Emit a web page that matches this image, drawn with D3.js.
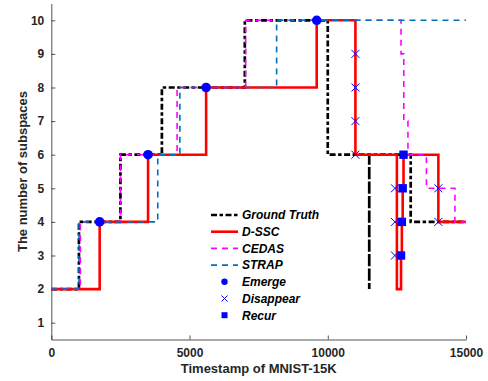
<!DOCTYPE html>
<html>
<head>
<meta charset="utf-8">
<script src="https://cdn.jsdelivr.net/npm/d3@7"></script>
<style>
  body { margin: 0; background: #fff; }
  text { font-family: "Liberation Sans", Arial, sans-serif; }
</style>
</head>
<body>
<svg id="chart" width="488" height="381"></svg>
<script>
// step series: timestamp where the level starts, and the level
var gtTime    = [0, 1000, 2500, 4000, 7000, 10000, 11500, 11500, 13000, 15000];
var gtLevel   = [2, 4, 6, 8, 10, 6, 2, 6, 4, 4];

var dsscTime  = [0, 1750, 3500, 5600, 9600, 11000, 12500, 12650, 12680, 12710, 12740, 14000, 15000];
var dsscLevel = [2, 4, 6, 8, 10, 6, 2, 3, 4, 5, 6, 4, 4];

var cedasTime  = [0, 1050, 2500, 4550, 7030, 12650, 12750, 12900, 13570, 14600, 15000];
var cedasLevel = [2, 4, 6, 8, 10, 9, 7, 6, 5, 4, 4];

var strapTime  = [0, 1000, 3850, 4650, 8150, 15000];
var strapLevel = [2, 4, 6, 8, 10, 10];

// event markers
var emergeTime   = [1750, 3500, 5600, 9600];
var emergeLevel  = [4, 6, 8, 10];
var disTime      = [11000, 11000, 11000, 11000, 12430, 12430, 12430, 14000, 14000];
var disLevel     = [9, 8, 7, 6, 5, 4, 3, 5, 4];
var recurTime    = [12650, 12680, 12710, 12740];
var recurLevel   = [3, 4, 5, 6];

var xTicks = [0, 5000, 10000, 15000];
var yTicks = [1, 2, 3, 4, 5, 6, 7, 8, 9, 10];

var svg = d3.select("#chart");
var margin = {left: 51.3, right: 22, top: 3.5, bottom: 41.5};
var width = 488 - margin.left - margin.right,
    height = 381 - margin.top - margin.bottom;

var g = svg.append("g").attr("transform", "translate(" + margin.left + "," + margin.top + ")");

var x = d3.scaleLinear().domain([0, 15000]).range([0, width]);
var y = d3.scaleLinear().domain([0.5, 10.5]).range([height, 0]);

function pts(t, v) { return t.map(function(d, i) { return [d, v[i]]; }); }

var step = d3.line()
    .x(function(d) { return x(d[0]); })
    .y(function(d) { return y(d[1]); })
    .curve(d3.curveStepAfter);

var axisColor = "#262626";

// axes (ticks inward, box off)
var xAxis = g.append("g")
    .attr("transform", "translate(0," + height + ")")
    .call(d3.axisBottom(x).tickValues(xTicks).tickSize(-4).tickSizeOuter(0).tickPadding(9).tickFormat(d3.format("d")));
var yAxis = g.append("g")
    .call(d3.axisLeft(y).tickValues(yTicks).tickSize(-4).tickSizeOuter(0).tickPadding(7));

[xAxis, yAxis].forEach(function(a) {
  a.select(".domain").attr("stroke", axisColor).attr("stroke-width", 0.8);
  a.selectAll(".tick line").attr("stroke", axisColor).attr("stroke-width", 0.8);
  a.selectAll(".tick text")
    .attr("fill", axisColor)
    .style("font-size", "12px")
    .style("font-weight", "bold")
    .style("font-family", "'Liberation Sans', Arial, sans-serif");
});

// series, drawn in plotting order
var series = [
  {t: gtTime, v: gtLevel, color: "#000000", w: 2.7, dash: "6,2.5,3.5,2.5"},
  {t: dsscTime, v: dsscLevel, color: "#ff0000", w: 2.6, dash: null},
  {t: cedasTime, v: cedasLevel, color: "#ff00ff", w: 1.6, dash: "6,5"},
  {t: strapTime, v: strapLevel, color: "#0072bd", w: 1.6, dash: "6,5"}
];

series.forEach(function(s) {
  g.append("path")
    .datum(pts(s.t, s.v))
    .attr("fill", "none")
    .attr("stroke", s.color)
    .attr("stroke-width", s.w)
    .attr("stroke-dasharray", s.dash)
    .attr("d", step);
});

// markers
g.selectAll(".emerge").data(pts(emergeTime, emergeLevel)).enter().append("circle")
  .attr("cx", function(d) { return x(d[0]); })
  .attr("cy", function(d) { return y(d[1]); })
  .attr("r", 4.8)
  .attr("fill", "#0000ff");

g.selectAll(".dis").data(pts(disTime, disLevel)).enter().append("path")
  .attr("transform", function(d) { return "translate(" + x(d[0]) + "," + y(d[1]) + ")"; })
  .attr("d", "M-4,-4L4,4M-4,4L4,-4")
  .attr("stroke", "#0000ff")
  .attr("stroke-width", 1);

g.selectAll(".recur").data(pts(recurTime, recurLevel)).enter().append("rect")
  .attr("x", function(d) { return x(d[0]) - 4.2; })
  .attr("y", function(d) { return y(d[1]) - 4.2; })
  .attr("width", 8.4)
  .attr("height", 8.4)
  .attr("fill", "#0000ff");

// legend
var legendItems = ["Ground Truth", "D-SSC", "CEDAS", "STRAP", "Emerge", "Disappear", "Recur"];
var lg = svg.append("g").attr("transform", "translate(211,215)");
legendItems.forEach(function(name, i) {
  var row = lg.append("g").attr("transform", "translate(0," + (i * 16.7) + ")");
  if (i < 4) {
    var s = series[i];
    row.append("line")
      .attr("x1", 0).attr("x2", 27).attr("y1", 0).attr("y2", 0)
      .attr("stroke", s.color)
      .attr("stroke-width", s.w)
      .attr("stroke-dasharray", s.dash);
  } else if (i == 4) {
    row.append("circle").attr("cx", 13.5).attr("cy", 0).attr("r", 3.2).attr("fill", "#0000ff");
  } else if (i == 5) {
    row.append("path").attr("d", "M10.5,-3L16.5,3M10.5,3L16.5,-3").attr("stroke", "#0000ff").attr("stroke-width", 1);
  } else {
    row.append("rect").attr("x", 10.5).attr("y", -3).attr("width", 6).attr("height", 6).attr("fill", "#0000ff");
  }
  row.append("text")
    .attr("x", 31)
    .attr("y", 4.3)
    .style("font-size", "12px")
    .style("font-weight", "bold")
    .style("font-style", "italic")
    .attr("fill", "#000")
    .text(name);
});

// axis labels
svg.append("text")
  .attr("x", margin.left + width / 2)
  .attr("y", 373)
  .attr("text-anchor", "middle")
  .style("font-size", "13px")
  .style("font-weight", "bold")
  .attr("fill", axisColor)
  .text("Timestamp of MNIST-15K");

svg.append("text")
  .attr("transform", "translate(27," + (margin.top + height / 2) + ") rotate(-90)")
  .attr("text-anchor", "middle")
  .style("font-size", "13px")
  .style("font-weight", "bold")
  .attr("fill", axisColor)
  .text("The number of subspaces");
</script>
</body>
</html>
